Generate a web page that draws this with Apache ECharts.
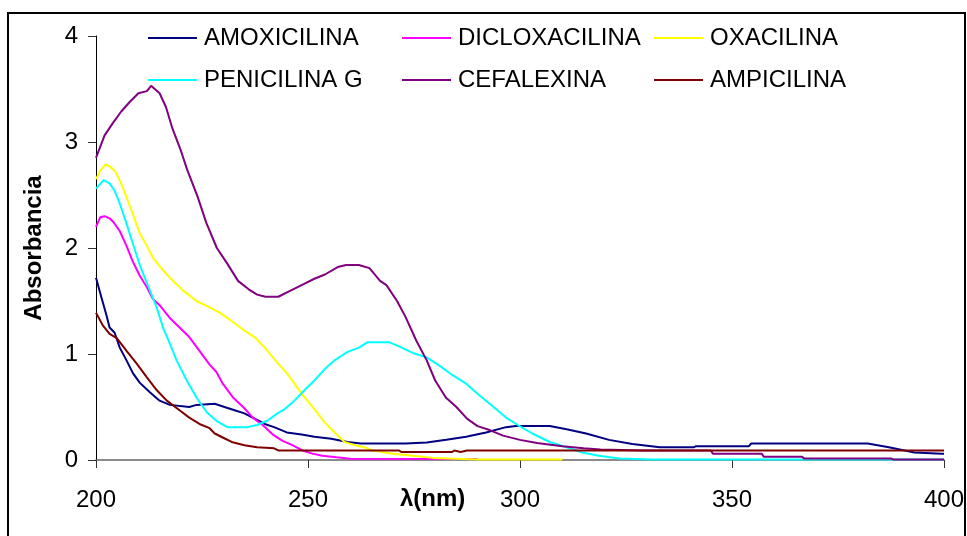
<!DOCTYPE html>
<html>
<head>
<meta charset="utf-8">
<script src="https://cdn.jsdelivr.net/npm/echarts@6/dist/echarts.min.js"></script>
<style>
  html, body { margin: 0; padding: 0; background: #fff; }
  #chart { width: 967px; height: 536px; }
</style>
</head>
<body>
<div id="chart"></div>
<script>
// UV absorption spectra (wavelength in nm, absorbance)
const seriesNames = ['AMOXICILINA', 'DICLOXACILINA', 'OXACILINA', 'PENICILINA G', 'CEFALEXINA', 'AMPICILINA'];
const seriesColors = ['#000080', '#FF00FF', '#FFFF00', '#00FFFF', '#800080', '#800000'];
const xTicks = [200, 250, 300, 350, 400];
const yTicks = [0, 1, 2, 3, 4];

const amoxWl  = [200, 201.3, 202.5, 203.2, 204.4, 205.6, 207.2, 208.7, 210.3, 212.7, 215, 217.4, 222, 223.7, 228, 230.3, 232.7, 235, 237.4, 239.8, 242, 245, 248.5, 251.5, 255.5, 259.3, 262.5, 273, 278, 282.6, 287.3, 292, 296.7, 299, 307, 311, 315.6, 321, 326.5, 333, 341, 341.5, 354, 354.5, 367, 367.4, 368, 382, 387, 393, 399.5, 400];
const amoxAbs = [1.72, 1.53, 1.36, 1.25, 1.20, 1.06, 0.94, 0.82, 0.73, 0.64, 0.56, 0.52, 0.50, 0.52, 0.53, 0.50, 0.47, 0.44, 0.39, 0.34, 0.31, 0.26, 0.24, 0.22, 0.20, 0.17, 0.155, 0.155, 0.165, 0.19, 0.22, 0.26, 0.31, 0.32, 0.32, 0.29, 0.25, 0.19, 0.15, 0.12, 0.12, 0.13, 0.13, 0.155, 0.155, 0.17, 0.155, 0.155, 0.12, 0.07, 0.06, 0.06];

const diclWl  = [200, 201, 202, 203.2, 204.2, 205.6, 207.2, 208.7, 210.3, 212, 213.4, 215, 217.4, 219.7, 222, 224.4, 226.8, 228.4, 229.9, 232.3, 234.7, 237, 239.3, 241.7, 244, 246.3, 248.7, 251, 253.4, 256.7, 260, 290];
const diclAbs = [2.20, 2.29, 2.30, 2.28, 2.24, 2.16, 2.02, 1.87, 1.74, 1.63, 1.52, 1.46, 1.34, 1.25, 1.16, 1.03, 0.90, 0.83, 0.72, 0.59, 0.50, 0.40, 0.33, 0.24, 0.18, 0.14, 0.09, 0.06, 0.04, 0.025, 0.012, 0.01];

const oxaWl  = [200, 201, 202.3, 203.2, 204.4, 205.6, 207.2, 208.7, 210.3, 212, 213.4, 215.8, 217.4, 220.5, 223.7, 226.8, 229.1, 230.3, 232.7, 235, 237.4, 239.8, 242.3, 245, 247.5, 249.2, 251.7, 254, 256.3, 258.6, 261, 263.3, 265.2, 270, 274.7, 279.4, 290, 310];
const oxaAbs = [2.65, 2.73, 2.79, 2.77, 2.73, 2.64, 2.48, 2.32, 2.14, 2.02, 1.91, 1.79, 1.72, 1.60, 1.50, 1.44, 1.39, 1.36, 1.29, 1.22, 1.16, 1.06, 0.94, 0.82, 0.68, 0.59, 0.47, 0.35, 0.26, 0.17, 0.14, 0.12, 0.09, 0.06, 0.04, 0.02, 0.005, 0.005];

const penWl  = [200, 201.8, 203.2, 204.4, 205.6, 207.2, 208.7, 210.5, 212.7, 214.3, 215.8, 217.4, 219, 221.4, 223.7, 226.1, 228.4, 229.6, 231, 235.7, 238, 240.4, 242.8, 244.5, 246.8, 249.2, 251.5, 254, 256.3, 259.3, 262, 264, 269.2, 271.6, 274.7, 277.9, 281, 284.1, 287.3, 290.4, 293.5, 296.7, 299.5, 302.9, 307, 311, 314.7, 318.6, 323.4, 331, 400];
const penAbs = [2.56, 2.64, 2.61, 2.54, 2.42, 2.23, 2.04, 1.82, 1.60, 1.44, 1.25, 1.10, 0.94, 0.75, 0.59, 0.45, 0.37, 0.34, 0.31, 0.31, 0.33, 0.37, 0.44, 0.48, 0.56, 0.66, 0.75, 0.86, 0.94, 1.02, 1.06, 1.11, 1.11, 1.07, 1.01, 0.97, 0.89, 0.80, 0.72, 0.61, 0.51, 0.40, 0.33, 0.25, 0.17, 0.12, 0.07, 0.04, 0.015, 0.005, 0.005];

const cefWl  = [200, 202, 204, 206, 208, 210, 212, 213, 215, 216.5, 218, 220, 221.5, 224, 226, 228.5, 231, 233.5, 236, 238, 240, 243, 246, 248.5, 251.5, 254, 257, 259, 262, 264.5, 267, 268.5, 271, 273, 275.5, 278, 280, 282.5, 285, 287.5, 290, 293, 296, 300, 304, 310, 315, 319, 329, 345, 345.5, 357, 357.5, 366.5, 367, 387.5, 388, 400];
const cefAbs = [2.85, 3.06, 3.18, 3.29, 3.38, 3.46, 3.48, 3.53, 3.46, 3.33, 3.13, 2.92, 2.74, 2.48, 2.24, 2.00, 1.85, 1.69, 1.61, 1.56, 1.54, 1.54, 1.60, 1.65, 1.71, 1.75, 1.82, 1.84, 1.84, 1.81, 1.69, 1.65, 1.50, 1.35, 1.13, 0.94, 0.75, 0.59, 0.50, 0.39, 0.32, 0.28, 0.23, 0.19, 0.16, 0.13, 0.11, 0.10, 0.09, 0.09, 0.06, 0.06, 0.03, 0.03, 0.015, 0.015, 0.005, 0.005];

const ampWl  = [200, 201.6, 203.2, 204.9, 207.2, 209.6, 212, 214.3, 216.7, 219.7, 222, 224.4, 226.8, 228, 230, 232, 235, 238, 242, 243, 271.5, 272, 284, 284.5, 286, 287.5, 400];
const ampAbs = [1.39, 1.27, 1.19, 1.15, 1.03, 0.91, 0.78, 0.66, 0.56, 0.47, 0.40, 0.34, 0.30, 0.25, 0.21, 0.17, 0.14, 0.12, 0.11, 0.09, 0.09, 0.075, 0.075, 0.09, 0.075, 0.09, 0.09];

const wavelengths = [amoxWl, diclWl, oxaWl, penWl, cefWl, ampWl];
const absorbances = [amoxAbs, diclAbs, oxaAbs, penAbs, cefAbs, ampAbs];

const FONT = 'Liberation Sans, Arial, sans-serif';

// one legend block per entry, laid out in a 3 x 2 grid
const legendCols = [148, 402, 654];
const legendRows = [26, 68];
const legends = seriesNames.map((name, i) => ({
  data: [name],
  left: legendCols[i % 3],
  top: legendRows[Math.floor(i / 3)],
  padding: 0,
  icon: 'rect',
  itemWidth: 49,
  itemHeight: 2,
  selectedMode: false,
  textStyle: { fontFamily: FONT, fontSize: 24, color: '#000', padding: [0, 0, 0, 2] }
}));

const chart = echarts.init(document.getElementById('chart'), null, { renderer: 'canvas' });
chart.setOption({
  animation: false,
  backgroundColor: '#fff',
  color: seriesColors,
  title: {
    text: 'λ(nm)',
    left: 400,
    top: 487,
    padding: 0,
    textStyle: { fontFamily: FONT, fontSize: 24, fontWeight: 'bold', color: '#000' }
  },
  legend: legends,
  graphic: [{
    type: 'rect',
    shape: { x: 8, y: 13, width: 957, height: 560 },
    style: { fill: 'none', stroke: '#000', lineWidth: 2 },
    silent: true
  }],
  grid: { left: 96, right: 22, top: 36, bottom: 76 },
  xAxis: {
    type: 'value',
    min: xTicks[0],
    max: xTicks[xTicks.length - 1],
    interval: 50,
    axisLine: { lineStyle: { color: '#666', width: 1.5 } },
    axisTick: { show: true, inside: false, length: 8, lineStyle: { color: '#333' } },
    axisLabel: { fontFamily: FONT, fontSize: 24, color: '#000', margin: 28 },
    splitLine: { show: false }
  },
  yAxis: {
    type: 'value',
    min: yTicks[0],
    max: yTicks[yTicks.length - 1],
    interval: 1,
    name: 'Absorbancia',
    nameLocation: 'middle',
    nameGap: 50,
    nameTextStyle: { fontFamily: FONT, fontSize: 24, fontWeight: 'bold', color: '#000' },
    axisLine: { show: true, lineStyle: { color: '#000', width: 1 } },
    axisTick: { show: true, inside: false, length: 8, lineStyle: { color: '#333' } },
    axisLabel: { fontFamily: FONT, fontSize: 24, color: '#000', margin: 18 },
    splitLine: { show: false }
  },
  series: seriesNames.map((name, i) => ({
    name: name,
    type: 'line',
    showSymbol: false,
    symbol: 'none',
    smooth: false,
    lineStyle: { width: 2, color: seriesColors[i] },
    itemStyle: { color: seriesColors[i] },
    data: wavelengths[i].map((w, k) => [w, absorbances[i][k]])
  }))
});
</script>
</body>
</html>
